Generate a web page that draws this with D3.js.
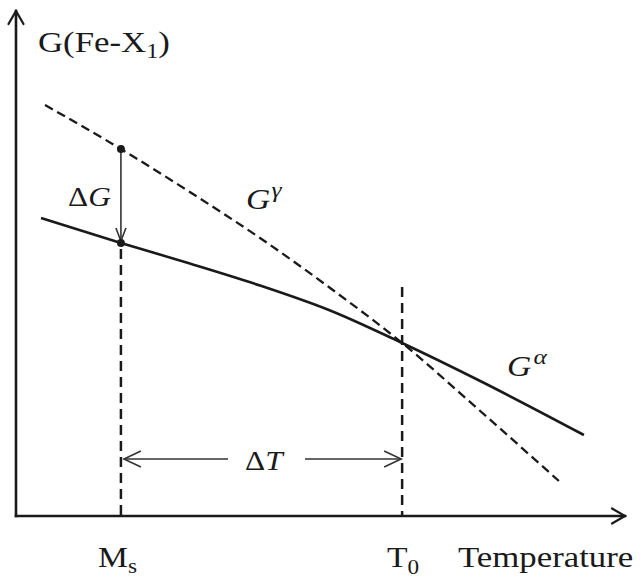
<!DOCTYPE html>
<html>
<head>
<meta charset="utf-8">
<script src="https://cdn.jsdelivr.net/npm/d3@7"></script>
<style>
  html, body { margin: 0; padding: 0; background: #fff; }
  svg { display: block; }
  text { font-family: "Liberation Serif", "Times New Roman", serif; fill: #1a1a1a; }
</style>
</head>
<body>
<svg id="chart" width="641" height="578"></svg>
<script>
// Free energy of the γ (austenite) and α (ferrite/martensite) phases vs temperature
const gammaT = [4.75, 17.2, 28.5, 40.0, 51.5, 63.3, 76.1, 89.0];
const gammaG = [82.2, 73.4, 64.8, 55.6, 45.6, 34.6, 21.0, 7.0];
const alphaT = [4.1, 17.2, 28.5, 40.0, 51.5, 63.3, 76.1, 93.1];
const alphaG = [59.6, 54.6, 50.5, 46.1, 41.1, 34.6, 27.0, 16.2];
// Characteristic temperatures
const msTemp = 17.2;   // martensite start
const t0Temp = 63.3;   // equal free-energy temperature
const gammaAtMs = 73.4;
const alphaAtMs = 54.6;
const t0Energy = 34.6;
const deltaTArrowG = 11.4;

const svg = d3.select("#chart");
const ink = "#1a1a1a";
const stretch = 1.16;

const x = d3.scaleLinear().domain([0, 100]).range([16, 626]);
const y = d3.scaleLinear().domain([0, 100]).range([516, 16]);

const line = d3.line().x(d => x(d[0])).y(d => y(d[1])).curve(d3.curveMonotoneX);

// axes with open arrowheads
const axes = svg.append("g").attr("stroke", ink).attr("fill", "none")
  .attr("stroke-width", 2.6).attr("stroke-linecap", "square");
axes.append("path").attr("d", `M${x(0)},${y(0)}H${x(100) - 1}`);
axes.append("path").attr("d", `M${x(0)},${y(0)}V${y(100) - 5}`);
axes.append("path").attr("stroke-width", 2.2).attr("stroke-linecap", "round").attr("stroke-linejoin", "miter")
  .attr("d", `M${x(100) - 14},${y(0) - 7.5}L${x(100) - 1},${y(0)}L${x(100) - 14},${y(0) + 7.5}`);
axes.append("path").attr("stroke-width", 2.2).attr("stroke-linecap", "round")
  .attr("d", `M${x(0) - 7.5},${y(100) + 8}L${x(0)},${y(100) - 5}L${x(0) + 7.5},${y(100) + 8}`);

// vertical guides at Ms and T0
const guides = svg.append("g").attr("stroke", ink).attr("stroke-width", 2.5)
  .attr("stroke-dasharray", "10,6");
guides.append("line").attr("x1", x(msTemp)).attr("x2", x(msTemp))
  .attr("y1", y(alphaAtMs) + 6).attr("y2", y(0));
guides.append("line").attr("x1", x(t0Temp)).attr("x2", x(t0Temp))
  .attr("y1", y(t0Energy) - 56).attr("y2", y(0));

// phase curves
svg.append("path").datum(d3.zip(gammaT, gammaG))
  .attr("d", line).attr("fill", "none").attr("stroke", ink)
  .attr("stroke-width", 2.3).attr("stroke-dasharray", "9,5");
svg.append("path").datum(d3.zip(alphaT, alphaG))
  .attr("d", line).attr("fill", "none").attr("stroke", ink)
  .attr("stroke-width", 2.6);

// ΔG arrow between the curves at Ms
const dg = svg.append("g").attr("stroke", "#333").attr("fill", "none").attr("stroke-width", 1.6);
dg.append("line").attr("x1", x(msTemp)).attr("x2", x(msTemp))
  .attr("y1", y(gammaAtMs)).attr("y2", y(alphaAtMs) - 2);
dg.append("path").attr("d",
  `M${x(msTemp) - 5},${y(alphaAtMs) - 15}L${x(msTemp)},${y(alphaAtMs) - 2}L${x(msTemp) + 5},${y(alphaAtMs) - 15}`);
svg.selectAll("circle.pt").data([gammaAtMs, alphaAtMs]).join("circle")
  .attr("class", "pt").attr("cx", x(msTemp)).attr("cy", d => y(d)).attr("r", 4).attr("fill", ink);

// ΔT arrow between Ms and T0
const dt = svg.append("g").attr("stroke", "#333").attr("fill", "none").attr("stroke-width", 1.6);
const dtY = y(deltaTArrowG);
dt.append("line").attr("x1", x(msTemp) + 3).attr("x2", 228).attr("y1", dtY).attr("y2", dtY);
dt.append("line").attr("x1", 305).attr("x2", x(t0Temp) - 1).attr("y1", dtY).attr("y2", dtY);
dt.append("path").attr("d", `M${x(msTemp) + 20},${dtY - 8}L${x(msTemp) + 3},${dtY}L${x(msTemp) + 20},${dtY + 8}`);
dt.append("path").attr("d", `M${x(t0Temp) - 18},${dtY - 8}L${x(t0Temp) - 1},${dtY}L${x(t0Temp) - 18},${dtY + 8}`);

// text helper: slightly widened serif text
function label(px, py, anchor) {
  return svg.append("text")
    .attr("transform", `translate(${px},${py}) scale(${stretch},1)`)
    .attr("text-anchor", anchor || "start");
}

// axis titles
const yt = label(38, 52).attr("font-size", 30);
yt.append("tspan").text("G(Fe-X");
yt.append("tspan").attr("font-size", 21).attr("dy", 6).text("1");
yt.append("tspan").attr("dy", -6).text(")");

label(458, 567).attr("font-size", 30).text("Temperature");

const ms = label(98, 567).attr("font-size", 29);
ms.append("tspan").text("M");
ms.append("tspan").attr("font-size", 20).attr("dy", 6).text("s");

const t0 = label(387, 567).attr("font-size", 29);
t0.append("tspan").text("T");
t0.append("tspan").attr("font-size", 20).attr("dy", 7).text("0");

// math labels
const dG = label(68, 206).attr("font-size", 27);
dG.append("tspan").text("Δ");
dG.append("tspan").attr("font-style", "italic").text("G");

const dT = label(245, 470).attr("font-size", 27);
dT.append("tspan").text("Δ");
dT.append("tspan").attr("font-style", "italic").text("T");

const gg = label(246, 209).attr("font-size", 29).attr("font-style", "italic");
gg.append("tspan").text("G");
gg.append("tspan").attr("font-size", 22).attr("dy", -12).attr("dx", 1).text("γ");

const ga = label(507, 376).attr("font-size", 29).attr("font-style", "italic");
ga.append("tspan").text("G");
ga.append("tspan").attr("font-size", 22).attr("dy", -12).attr("dx", 2).text("α");
</script>
</body>
</html>
